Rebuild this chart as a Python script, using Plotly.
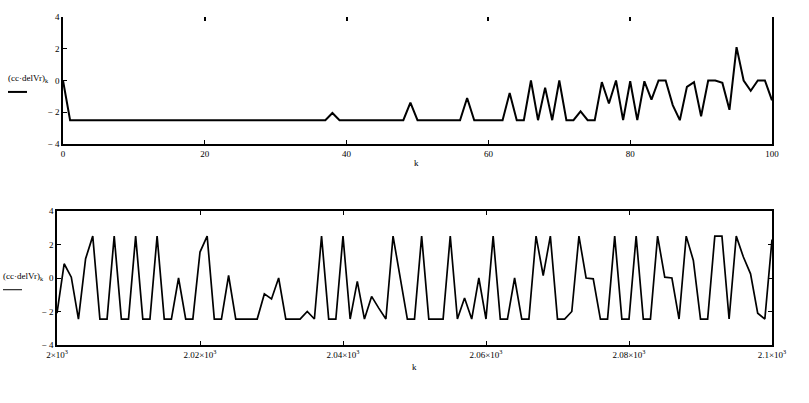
import plotly.graph_objects as go

# top panel: k = 0..100
k_top = list(range(0, 101))
val_top = [
    0, -2.5, -2.5, -2.5, -2.5, -2.5, -2.5, -2.5, -2.5, -2.5,
    -2.5, -2.5, -2.5, -2.5, -2.5, -2.5, -2.5, -2.5, -2.5, -2.5,
    -2.5, -2.5, -2.5, -2.5, -2.5, -2.5, -2.5, -2.5, -2.5, -2.5,
    -2.5, -2.5, -2.5, -2.5, -2.5, -2.5, -2.5, -2.5, -2.05, -2.5,
    -2.5, -2.5, -2.5, -2.5, -2.5, -2.5, -2.5, -2.5, -2.5, -1.4,
    -2.5, -2.5, -2.5, -2.5, -2.5, -2.5, -2.5, -1.1, -2.5, -2.5,
    -2.5, -2.5, -2.5, -0.78, -2.5, -2.5, 0, -2.5, -0.45, -2.5,
    0, -2.5, -2.5, -1.95, -2.5, -2.5, -0.1, -1.45, 0, -2.5,
    -0.05, -2.5, -0.05, -1.2, 0, 0, -1.55, -2.5, -0.4, -0.1,
    -2.25, 0, 0, -0.15, -1.85, 2.1, 0, -0.65, 0, 0,
    -1.25,
]

# bottom panel: k = 2000..2100
k_bot = list(range(2000, 2101))
val_bot = [
    -2.1, 0.85, 0.05, -2.45, 1.15, 2.5, -2.45, -2.45, 2.5, -2.45,
    -2.45, 2.5, -2.45, -2.45, 2.5, -2.45, -2.45, 0, -2.45, -2.45,
    1.55, 2.5, -2.45, -2.45, 0.15, -2.45, -2.45, -2.45, -2.45, -0.95,
    -1.25, 0, -2.45, -2.45, -2.45, -2.0, -2.45, 2.5, -2.45, -2.45,
    2.5, -2.45, -0.2, -2.45, -1.1, -1.8, -2.45, 2.5, 0, -2.45,
    -2.45, 2.5, -2.45, -2.45, -2.45, 2.5, -2.45, -1.2, -2.45, 0,
    -2.45, 2.5, -2.45, -2.45, 0, -2.45, -2.45, 2.5, 0.15, 2.5,
    -2.45, -2.45, -2.0, 2.5, 0, -0.05, -2.45, -2.45, 2.5, -2.45,
    -2.45, 2.5, -2.45, -2.45, 2.5, 0.05, 0, -2.45, 2.5, 1.05,
    -2.45, -2.45, 2.5, 2.5, -2.45, 2.5, 1.25, 0.25, -2.1, -2.45,
    2.3,
]

y_ticks = [-4, -2, 0, 2, 4]
y_ticktext = ["− 4", "− 2", "0", "2", "4"]
top_ticks = [0, 20, 40, 60, 80, 100]
bot_ticks = [2000, 2020, 2040, 2060, 2080, 2100]
bot_ticktext = ["2×10<sup>3</sup>", "2.02×10<sup>3</sup>", "2.04×10<sup>3</sup>",
                "2.06×10<sup>3</sup>", "2.08×10<sup>3</sup>", "2.1×10<sup>3</sup>"]

W, H = 809, 403


def font():
    return dict(family="Liberation Serif", size=9, color="black")


def px_x(p):
    return p / W


def px_y(p):
    return 1 - p / H


fig = go.Figure()
fig.add_trace(go.Scatter(x=k_top, y=val_top, mode="lines", xaxis="x", yaxis="y",
                         line=dict(color="black", width=2), showlegend=False))
# empty trace so the top tick-only axis gets drawn
fig.add_trace(go.Scatter(x=[], y=[], mode="lines", xaxis="x3", yaxis="y",
                         showlegend=False, hoverinfo="skip"))
fig.add_trace(go.Scatter(x=k_bot, y=val_bot, mode="lines", xaxis="x2", yaxis="y2",
                         line=dict(color="black", width=1.7), showlegend=False))


def axis(**kw):
    base = dict(showgrid=False, zeroline=False, ticks="inside", ticklen=4,
                tickcolor="black", tickwidth=1, linecolor="black", linewidth=1.5,
                showline=True, tickfont=font(), automargin=False)
    base.update(kw)
    return base


fig.update_layout(
    width=W, height=H, autosize=False,
    margin=dict(l=0, r=0, t=0, b=0, autoexpand=False),
    paper_bgcolor="white", plot_bgcolor="white",
    xaxis=axis(domain=[px_x(63), px_x(772)], range=[0, 100],
               tickvals=top_ticks, anchor="y", mirror=False),
    yaxis=axis(domain=[px_y(144), px_y(17)], range=[-4, 4],
               tickvals=y_ticks, ticktext=y_ticktext, anchor="x", mirror=True),
    xaxis3=dict(showgrid=False, zeroline=False, ticks="inside", ticklen=4,
                tickcolor="black", tickwidth=1.5, showline=False, showticklabels=False,
                overlaying="x", side="top", anchor="y", range=[0, 100],
                tickvals=[20, 40, 60, 80], automargin=False),
    xaxis2=axis(domain=[px_x(57), px_x(772)], range=[2000, 2100],
                tickvals=bot_ticks, ticktext=bot_ticktext, anchor="y2", mirror="ticks"),
    yaxis2=axis(domain=[px_y(345), px_y(211)], range=[-4, 4],
                tickvals=y_ticks, ticktext=y_ticktext, anchor="x2", mirror="ticks"),
)

# axis labels (Mathcad style)
fig.add_annotation(text="k", x=px_x(416), y=px_y(163), xref="paper", yref="paper",
                   showarrow=False, font=font())
fig.add_annotation(text="k", x=px_x(415), y=px_y(374), xref="paper", yref="paper",
                   showarrow=False, font=font())
# y labels sit level with the 0 tick, as in the Mathcad plot
fig.add_annotation(text="(cc·delVr)<sub>k</sub>", x=px_x(6), y=0.1, xref="paper",
                   yref="y", xanchor="left", yanchor="middle", showarrow=False, font=font())
fig.add_annotation(text="(cc·delVr)<sub>k</sub>", x=px_x(1), y=0.1, xref="paper",
                   yref="y2", xanchor="left", yanchor="middle", showarrow=False, font=font())

# trace-style samples under the y labels
fig.add_shape(type="line", xref="paper", yref="y", x0=px_x(8), x1=px_x(27),
              y0=-0.72, y1=-0.72, line=dict(color="black", width=2))
fig.add_shape(type="line", xref="paper", yref="y2", x0=px_x(3), x1=px_x(22),
              y0=-0.7, y1=-0.7, line=dict(color="black", width=1))

# drop the page's default 8px body margin so the figure sits at the window corner
fig.write_html("out.html", config={"displayModeBar": False},
               post_script="document.body.style.margin='0px';")
